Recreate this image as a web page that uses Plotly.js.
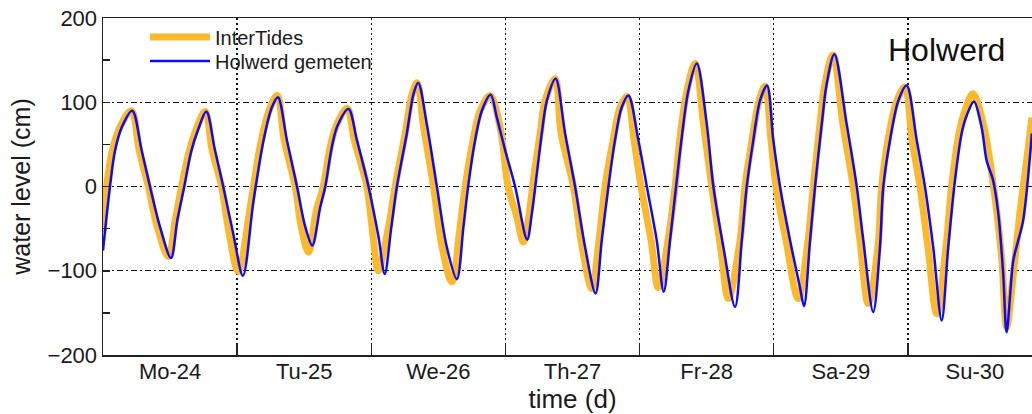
<!DOCTYPE html>
<html>
<head>
<meta charset="utf-8">
<script src="https://cdn.plot.ly/plotly-3.0.1.min.js"></script>
<style>
  html, body { margin: 0; padding: 0; overflow: hidden; background: #fff; }
  #chart { width: 1060px; height: 414px; }
</style>
</head>
<body>
<div id="chart"></div>
<script>
// time in days (day of month), water level in cm
const modelTime = [24.000, 24.027, 24.069, 24.125, 24.211, 24.270, 24.338, 24.405, 24.487, 24.539,
  24.586, 24.643, 24.695, 24.762, 24.814, 24.884, 24.941, 25.008, 25.105, 25.180,
  25.247, 25.299, 25.351, 25.433, 25.478, 25.532, 25.589, 25.642, 25.694, 25.739,
  25.820, 25.873, 25.967, 26.014, 26.051, 26.126, 26.178, 26.253, 26.305, 26.342,
  26.387, 26.464, 26.528, 26.601, 26.662, 26.700, 26.759, 26.812, 26.886, 26.961,
  27.020, 27.085, 27.134, 27.177, 27.214, 27.259, 27.296, 27.370, 27.415, 27.507,
  27.572, 27.644, 27.698, 27.743, 27.803, 27.855, 27.907, 27.959, 28.011, 28.086,
  28.140, 28.212, 28.265, 28.302, 28.354, 28.414, 28.477, 28.538, 28.607, 28.662,
  28.749, 28.786, 28.838, 28.891, 28.935, 28.980, 29.017, 29.092, 29.183, 29.256,
  29.295, 29.345, 29.382, 29.442, 29.516, 29.593, 29.643, 29.705, 29.777, 29.805,
  29.852, 29.919, 29.978, 30.031, 30.090, 30.150, 30.215, 30.284, 30.326, 30.381,
  30.426, 30.485, 30.562, 30.636, 30.699, 30.736, 30.786, 30.835, 30.873, 30.925];
const modelLevel = [-54, 0, 42, 70, 90, 43, 0, -48, -83, -40,
  0, 42, 68, 89, 43, 0, -56, -101, -17, 55,
  94, 108, 55, 0, -48, -78, -30, 0, 47, 72,
  93, 55, 0, -60, -100, -50, 0, 63, 110, 123,
  74, 0, -72, -113, -48, 0, 55, 90, 108, 70,
  0, -36, -66, -32, 15, 63, 102, 128, 63, 0,
  -72, -121, -64, 0, 55, 94, 107, 55, 0, -64,
  -120, -64, 0, 59, 114, 146, 74, 0, -76, -133,
  -64, 0, 55, 102, 119, 55, 0, -64, -133, -64,
  0, 74, 122, 156, 74, 0, -64, -139, -72, 0,
  55, 102, 118, 55, 0, -72, -151, -72, 0, 63,
  90, 110, 74, 3, -84, -167, -104, -32, 15, 82];

const measTime = [24.000, 24.052, 24.089, 24.139, 24.218, 24.288, 24.350, 24.425, 24.507, 24.554,
  24.606, 24.658, 24.710, 24.770, 24.835, 24.896, 24.971, 25.043, 25.122, 25.197,
  25.259, 25.304, 25.371, 25.446, 25.508, 25.560, 25.619, 25.657, 25.706, 25.748,
  25.830, 25.893, 25.979, 26.054, 26.100, 26.148, 26.191, 26.265, 26.315, 26.350,
  26.414, 26.489, 26.563, 26.638, 26.687, 26.722, 26.774, 26.824, 26.890, 26.936,
  26.998, 27.072, 27.162, 27.197, 27.234, 27.271, 27.309, 27.374, 27.445, 27.519,
  27.594, 27.672, 27.718, 27.768, 27.817, 27.867, 27.917, 27.991, 28.054, 28.128,
  28.180, 28.227, 28.272, 28.315, 28.364, 28.426, 28.501, 28.550, 28.625, 28.712,
  28.762, 28.799, 28.848, 28.898, 28.950, 28.997, 29.047, 29.122, 29.196, 29.226,
  29.271, 29.308, 29.358, 29.395, 29.452, 29.544, 29.619, 29.668, 29.742, 29.792,
  29.817, 29.867, 29.929, 29.991, 30.066, 30.127, 30.189, 30.252, 30.301, 30.351,
  30.401, 30.438, 30.493, 30.550, 30.587, 30.636, 30.674, 30.711, 30.736, 30.786,
  30.823, 30.860, 30.925];
const measLevel = [-76, 0, 42, 70, 90, 43, 0, -48, -85, -40,
  0, 42, 68, 89, 43, 0, -56, -106, -17, 55,
  94, 106, 55, 0, -48, -70, -25, 0, 47, 72,
  92, 55, 0, -60, -104, -50, 0, 63, 110, 123,
  74, 0, -72, -110, -48, 0, 55, 90, 109, 82,
  43, 0, -63, -32, 15, 63, 102, 128, 63, 0,
  -72, -127, -64, 0, 55, 94, 108, 55, 0, -64,
  -125, -64, 0, 59, 114, 146, 74, 0, -72, -143,
  -64, 0, 55, 102, 120, 55, 0, -64, -120, -142,
  -64, 0, 74, 122, 157, 74, 0, -64, -149, -72,
  0, 55, 102, 120, 55, 0, -72, -159, -72, 7,
  63, 84, 101, 70, 31, 7, -32, -104, -173, -88,
  -64, -40, 63];

const dayCenters = [24.5, 25.5, 26.5, 27.5, 28.5, 29.5, 30.5];
const dayLabels = ['Mo-24', 'Tu-25', 'We-26', 'Th-27', 'Fr-28', 'Sa-29', 'Su-30'];
const dayBounds = [25, 26, 27, 28, 29, 30];
const yMajor = [-200, -100, 0, 100, 200];
const yMinor = [-150, -50, 50, 150];

const FONT = 'Liberation Sans, Arial, Helvetica, sans-serif';

const traces = [
  {
    x: modelTime, y: modelLevel, type: 'scatter', mode: 'lines', name: 'InterTides',
    legend: 'legend',
    line: { color: '#FDB92A', width: 7, shape: 'spline', smoothing: 1 }
  },
  {
    x: measTime, y: measLevel, type: 'scatter', mode: 'lines', name: 'Holwerd gemeten',
    legend: 'legend2',
    line: { color: '#0a0aff', width: 2.5, shape: 'spline', smoothing: 0.9 }
  }
];

const legendFont = { family: FONT, size: 20, color: '#1a1a1a' };
const layout = {
  width: 1060, height: 414,
  margin: { l: 103, r: 18, t: 18, b: 59 },
  paper_bgcolor: '#ffffff', plot_bgcolor: '#ffffff',
  font: { family: FONT, color: '#1a1a1a', size: 21 },
  showlegend: true,
  legend: {
    x: 0.0447, y: 1.0012, xanchor: 'left', yanchor: 'top',
    bgcolor: 'rgba(0,0,0,0)', borderwidth: 0, font: legendFont, itemwidth: 60
  },
  legend2: {
    x: 0.0447, y: 0.9305, xanchor: 'left', yanchor: 'top',
    bgcolor: 'rgba(0,0,0,0)', borderwidth: 0, font: legendFont, itemwidth: 60
  },
  xaxis: {
    range: [24, 31], showline: true, mirror: true, linecolor: '#222', linewidth: 1.5,
    tickmode: 'array', tickvals: dayCenters, ticktext: dayLabels,
    ticks: '', ticklen: 0, ticklabelstandoff: -4, showgrid: false, zeroline: false,
    tickfont: { family: FONT, size: 22, color: '#1a1a1a' },
    minor: {
      tickmode: 'array', tickvals: dayBounds, ticks: 'inside', ticklen: 11,
      tickwidth: 1.5, tickcolor: '#222', showgrid: true, gridcolor: '#111',
      gridwidth: 1.5, griddash: '2px,3px'
    },
    title: { text: 'time (d)', font: { family: FONT, size: 26, color: '#1a1a1a' }, standoff: 2 }
  },
  yaxis: {
    range: [-200, 200], showline: true, mirror: true, linecolor: '#222', linewidth: 1.5,
    tickmode: 'array', tickvals: yMajor, ticks: 'inside', ticklen: 7, tickwidth: 1.5,
    tickcolor: '#222', showgrid: true, gridcolor: '#111', gridwidth: 1.2,
    griddash: '6px,3px,2px,3px', zeroline: false,
    tickfont: { family: FONT, size: 22, color: '#1a1a1a' },
    minor: { tickmode: 'array', tickvals: yMinor, ticks: 'inside', ticklen: 7, tickwidth: 1.5, tickcolor: '#222', showgrid: false },
    title: { text: 'water level (cm)', font: { family: FONT, size: 25, color: '#1a1a1a' }, standoff: 10 }
  },
  annotations: [
    { text: 'Holwerd', xref: 'paper', yref: 'paper', x: 0.898, y: 0.905, xanchor: 'center', yanchor: 'middle',
      showarrow: false, font: { family: FONT, size: 32, color: '#111' } }
  ]
};

Plotly.newPlot('chart', traces, layout, { displayModeBar: false, staticPlot: true });
</script>
</body>
</html>
